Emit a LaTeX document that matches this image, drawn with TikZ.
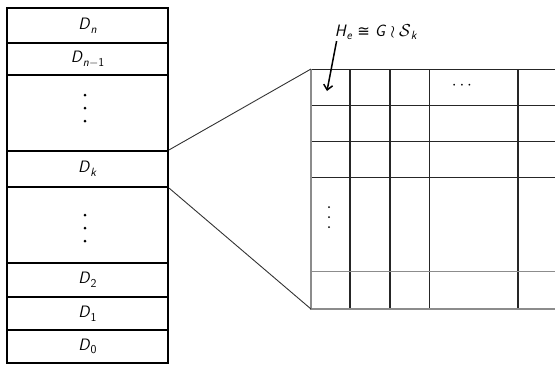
\documentclass[tikz,border=0pt]{standalone}
\usepackage{fontspec}
\newfontfamily\symfont{DejaVu Sans}
\usetikzlibrary{arrows.meta}
\newcommand{\sv}[1]{\textsf{\textit{#1}}}
\newcommand{\su}[1]{\textsf{#1}}
\newcommand{\lo}[1]{\raisebox{-0.22em}{\fontsize{12}{12}\selectfont #1}}
\tikzset{
  rowbox/.style={draw=black, line width=2.2pt, minimum width=161pt, inner sep=0pt, font=\fontsize{16.5}{18}\selectfont},
  gridline/.style={draw=black!85, line width=1pt},
  greyline/.style={draw=black!45, line width=1.3pt},
  zoomline/.style={draw=black!80, line width=0.9pt},
  dotmark/.style={fill=black, draw=none},
}
\begin{document}
\begin{tikzpicture}[x=1pt,y=-1pt]
\useasboundingbox (0,0) rectangle (555,365);
% left column
\node[rowbox, minimum height=35pt] (Dn) at (87.5,25.5) {\sv{D}\lo{\sv{n}}};
\node[rowbox, minimum height=32pt] (Dnm) at (87.5,59) {\sv{D}\lo{\sv{n}$-$\su{1}}};
\node[rowbox, minimum height=76pt] (U) at (87.5,113) {};
\node[rowbox, minimum height=36pt] (Dk) at (87.5,169) {\sv{D}\lo{\sv{k}}};
\node[rowbox, minimum height=76pt] (L) at (87.5,225) {};
\node[rowbox, minimum height=34pt] (D2) at (87.5,280) {\sv{D}\lo{\su{2}}};
\node[rowbox, minimum height=33pt] (D1) at (87.5,313.5) {\sv{D}\lo{\su{1}}};
\node[rowbox, minimum height=33pt] (D0) at (87.5,346.5) {\sv{D}\lo{\su{0}}};
% dots in column
\foreach \y in {95,108,121} \fill[dotmark] (85,\y) circle (1.5pt);
\foreach \y in {215,228,241} \fill[dotmark] (85,\y) circle (1.5pt);
% grid
\coordinate (gtl) at (311,69);
\coordinate (gbl) at (311,309);
\foreach \x in {350,390,518} \draw[gridline, line width=1.4pt] (\x,69) -- (\x,309);
\draw[gridline] (429,69) -- (429,309);
\foreach \y in {69,105,141,177} \draw[gridline] (311,\y) -- (555,\y);
\draw[greyline, line width=1pt] (311,271) -- (555,271);
\draw[greyline] (gtl) -- (gbl) -- (555,309);
% dots in grid
\node[font=\fontsize{16}{18}\selectfont] (hd) at (462,86) {$\cdots$};
\foreach \y in {207,217,227} \fill[dotmark] (329,\y) circle (1pt);
% zoom connectors
\draw[zoomline] (Dk.north east) -- (gtl);
\draw[zoomline] (Dk.south east) -- (gbl);
% label and arrow
\node[font=\fontsize{16.5}{18}\selectfont, inner sep=1pt] (lbl) at (376,32) {\sv{H}\lo{\sv{e}}\hspace{5pt}{\symfont\fontsize{15}{18}\selectfont ≅}\hspace{5pt}\sv{G}\hspace{4pt}$\wr$\hspace{4pt}$\mathcal{S}$\lo{\sv{k}}};
\coordinate (cell) at (327,91);
\draw[line width=1.5pt, -{Straight Barb[length=5pt,width=9pt]}] ([xshift=3pt]lbl.south west) -- (cell);
\end{tikzpicture}
\end{document}
